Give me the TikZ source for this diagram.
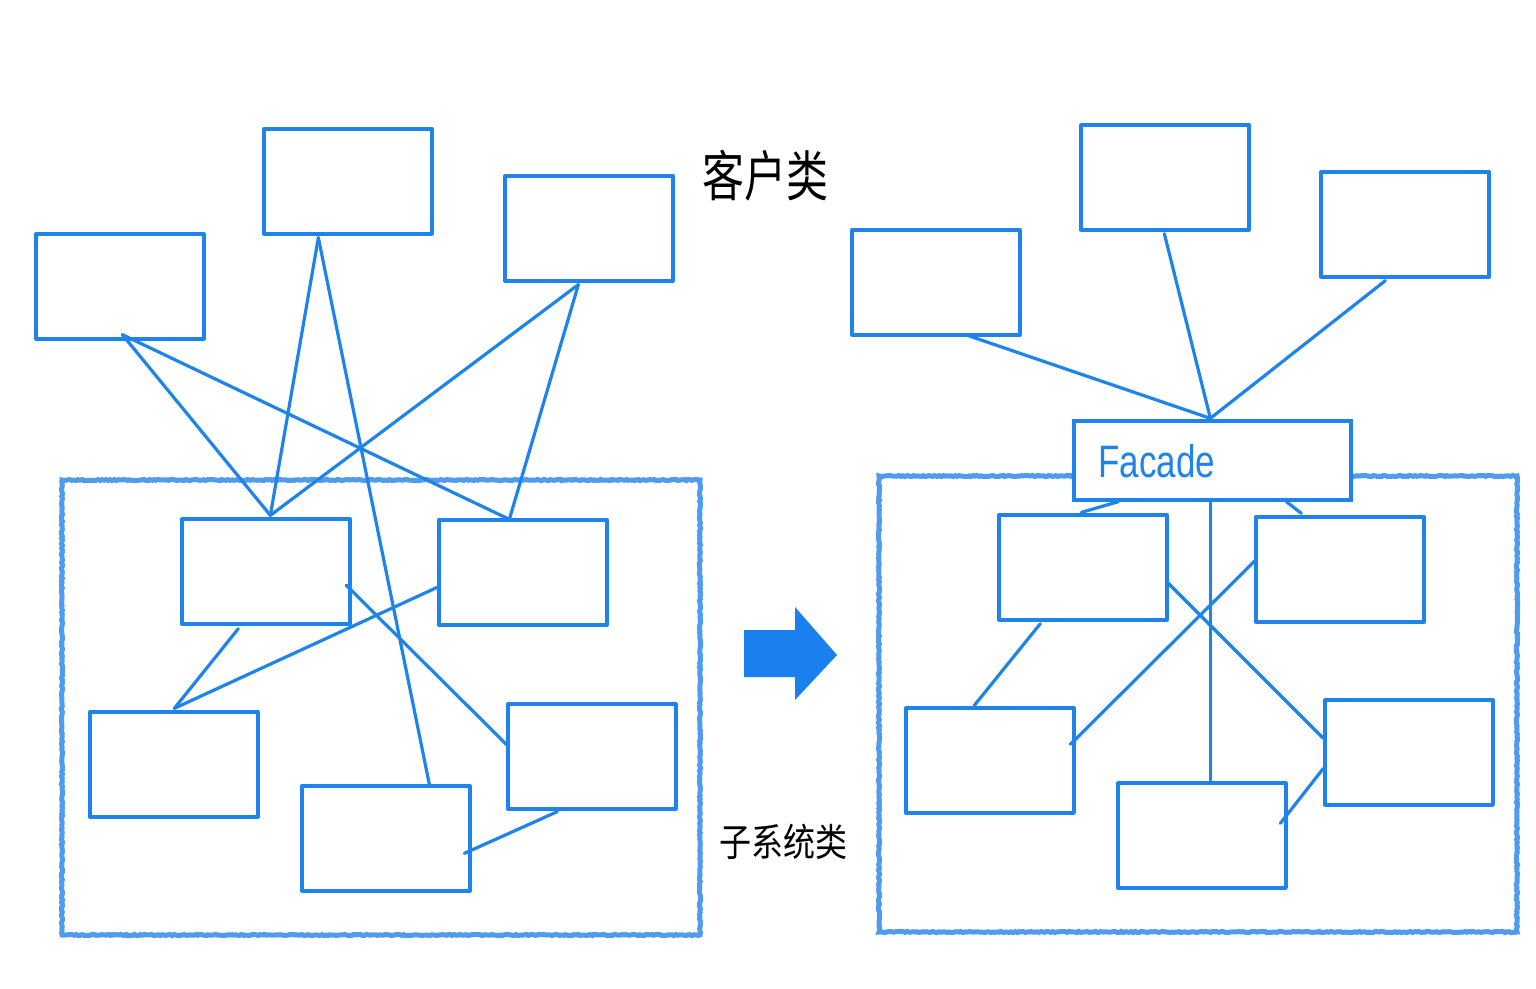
\documentclass[tikz,border=0pt]{standalone}
\usepackage{fontspec}
\setmainfont{Liberation Sans}
\newfontfamily\cjk{Noto Sans CJK SC}
\usetikzlibrary{calc,decorations.pathmorphing}
\definecolor{ln}{RGB}{30,132,235}
\definecolor{frame}{RGB}{80,155,235}
\definecolor{arr}{RGB}{26,128,240}
\tikzset{
  box/.style={draw=ln, line width=3.3pt, inner sep=0pt, minimum width=168pt, minimum height=105pt, line join=round},
  fbox/.style={draw=ln, line width=3.3pt, inner sep=0pt, minimum width=277pt, minimum height=79pt},
  subsys/.style={draw=frame, line width=5pt, inner sep=0pt, decorate, decoration={random steps, segment length=2pt, amplitude=0.6pt}},
  conn/.style={draw=ln, line width=3.2pt, line cap=round},
  hand/.style={text=black, inner sep=0pt}
}
\begin{document}
\begin{tikzpicture}[x=1pt,y=-1pt]
\useasboundingbox (0,0) rectangle (1536,988);
% ---------- left ----------
\node[subsys, minimum width=638pt, minimum height=455pt] (SL) at (381,707.5) {};
\node[box] (L1) at (120,286.5) {};
\node[box] (L2) at (348,181.5) {};
\node[box] (L3) at (589,228.5) {};
\node[box] (S1) at (266,571.5) {};
\node[box] (S2) at (523,572.5) {};
\node[box] (S3) at (174,764.5) {};
\node[box] (S4) at (386,838.5) {};
\node[box] (S5) at (592,756.5) {};
\draw[conn] ($(L1.south west)+(88,-6)$) -- ($(S1.north west)+(90,-2)$);
\draw[conn] ($(L1.south west)+(88,-6)$) -- ($(S2.north west)+(72,1)$);
\draw[conn] ($(L2.south west)+(56,2)$) -- ($(S1.north west)+(90,-2)$);
\draw[conn] ($(L2.south west)+(56,2)$) -- ($(S4.north west)+(129,0)$);
\draw[conn] ($(L3.south west)+(75,2)$) -- ($(S1.north west)+(90,-2)$);
\draw[conn] ($(L3.south west)+(75,2)$) -- ($(S2.north west)+(72,1)$);
\draw[conn] ($(S1.south west)+(58,3)$) -- ($(S3.north west)+(86,-2)$);
\draw[conn] ($(S3.north west)+(86,-2)$) -- ($(S2.north west)+(2,68)$);
\draw[conn] ($(S1.north west)+(166,68)$) -- ($(S5.north west)+(2,44)$);
\draw[conn] ($(S4.north west)+(164,69)$) -- ($(S5.south west)+(51,1)$);
% ---------- arrow ----------
\fill[arr] (744,630) -- (795,630) -- (795,607) -- (837,655) -- (795,700) -- (795,677) -- (744,677) -- cycle;
% ---------- labels ----------
\node[hand, font=\cjk\fontsize{42}{42}\selectfont] (kh) at (765,176) {\scalebox{1}[1.3]{客户类}};
\node[hand, font=\cjk\fontsize{32}{32}\selectfont] (zx) at (783,842) {\scalebox{1}[1.2]{子系统类}};
% ---------- right ----------
\node[subsys, minimum width=638pt, minimum height=456pt] (SR) at (1198,704) {};
\node[box] (R1) at (936,282.5) {};
\node[box] (R2) at (1165,177.5) {};
\node[box] (R3) at (1405,224.5) {};
\node[box, fill=white] (T1) at (1083,567.5) {};
\node[box] (T2) at (1340,569.5) {};
\node[box] (T3) at (990,760.5) {};
\node[box] (T4) at (1202,835.5) {};
\node[box] (T5) at (1409,752.5) {};
\node[fbox, fill=white] (F) at (1212.5,460.5) {};
\node[text=ln, inner sep=0pt, anchor=west, font=\fontsize{35}{35}\selectfont] (ft) at (1098,461) {\scalebox{1}[1.3]{Facade}};
\draw[conn] ($(R1.south west)+(118,-1)$) -- ($(F.north west)+(138,-1)$);
\draw[conn] ($(R2.south west)+(85,2)$) -- ($(F.north west)+(138,-1)$);
\draw[conn] ($(R3.south west)+(66,2)$) -- ($(F.north west)+(138,-1)$);
\draw[conn] ($(F.south west)+(46,0)$) -- ($(T1.north west)+(84,-1)$);
\draw[conn] ($(F.south west)+(214,0)$) -- ($(T2.north west)+(47,-2)$);
\draw[conn] ($(F.south west)+(138,0)$) -- ($(T4.north west)+(94,-1)$);
\draw[conn] ($(T1.south west)+(43,2)$) -- ($(T3.north west)+(70,-1)$);
\draw[conn] ($(T2.north west)+(0,46)$) -- ($(T3.north west)+(166,38)$);
\draw[conn] ($(T1.north west)+(169,68)$) -- ($(T5.north west)+(0,40)$);
\draw[conn] ($(T5.north west)+(0,70)$) -- ($(T4.north west)+(164,42)$);
\end{tikzpicture}
\end{document}
